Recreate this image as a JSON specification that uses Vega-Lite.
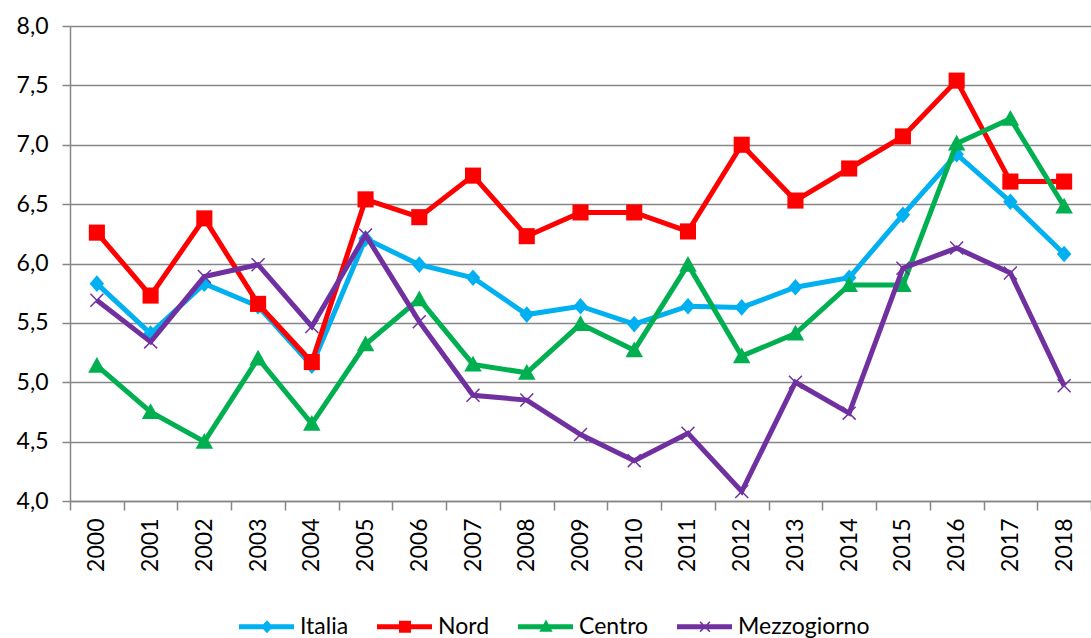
{
  "$schema": "https://vega.github.io/schema/vega-lite/v6.json",
  "width": 1021,
  "height": 475,
  "autosize": {"type": "none"},
  "padding": {"left": 70, "top": 26, "right": 0, "bottom": 137},
  "background": "white",
  "config": {
    "view": {"stroke": null},
    "font": "Lato",
    "axis": {
      "domainColor": "#868686",
      "tickColor": "#868686",
      "gridColor": "#868686",
      "labelFont": "Lato",
      "labelFontSize": 23,
      "labelColor": "#000000",
      "domainWidth": 1.5,
      "tickWidth": 1.5,
      "gridWidth": 1.5
    },
    "legend": {"labelFont": "Lato", "labelFontSize": 23, "labelColor": "#000000", "padding": 0}
  },
  "data": {
    "values": [
      {"year": "2000", "series": "Italia", "value": 5.83},
      {"year": "2001", "series": "Italia", "value": 5.41},
      {"year": "2002", "series": "Italia", "value": 5.83},
      {"year": "2003", "series": "Italia", "value": 5.64},
      {"year": "2004", "series": "Italia", "value": 5.14},
      {"year": "2005", "series": "Italia", "value": 6.21},
      {"year": "2006", "series": "Italia", "value": 5.99},
      {"year": "2007", "series": "Italia", "value": 5.88},
      {"year": "2008", "series": "Italia", "value": 5.57},
      {"year": "2009", "series": "Italia", "value": 5.64},
      {"year": "2010", "series": "Italia", "value": 5.49},
      {"year": "2011", "series": "Italia", "value": 5.64},
      {"year": "2012", "series": "Italia", "value": 5.63},
      {"year": "2013", "series": "Italia", "value": 5.80},
      {"year": "2014", "series": "Italia", "value": 5.88},
      {"year": "2015", "series": "Italia", "value": 6.41},
      {"year": "2016", "series": "Italia", "value": 6.92},
      {"year": "2017", "series": "Italia", "value": 6.52},
      {"year": "2018", "series": "Italia", "value": 6.08},
      {"year": "2000", "series": "Nord", "value": 6.26},
      {"year": "2001", "series": "Nord", "value": 5.73},
      {"year": "2002", "series": "Nord", "value": 6.38},
      {"year": "2003", "series": "Nord", "value": 5.66},
      {"year": "2004", "series": "Nord", "value": 5.17},
      {"year": "2005", "series": "Nord", "value": 6.54},
      {"year": "2006", "series": "Nord", "value": 6.39},
      {"year": "2007", "series": "Nord", "value": 6.74},
      {"year": "2008", "series": "Nord", "value": 6.23},
      {"year": "2009", "series": "Nord", "value": 6.43},
      {"year": "2010", "series": "Nord", "value": 6.43},
      {"year": "2011", "series": "Nord", "value": 6.27},
      {"year": "2012", "series": "Nord", "value": 7.00},
      {"year": "2013", "series": "Nord", "value": 6.53},
      {"year": "2014", "series": "Nord", "value": 6.80},
      {"year": "2015", "series": "Nord", "value": 7.07},
      {"year": "2016", "series": "Nord", "value": 7.54},
      {"year": "2017", "series": "Nord", "value": 6.69},
      {"year": "2018", "series": "Nord", "value": 6.69},
      {"year": "2000", "series": "Centro", "value": 5.14},
      {"year": "2001", "series": "Centro", "value": 4.75},
      {"year": "2002", "series": "Centro", "value": 4.50},
      {"year": "2003", "series": "Centro", "value": 5.20},
      {"year": "2004", "series": "Centro", "value": 4.65},
      {"year": "2005", "series": "Centro", "value": 5.32},
      {"year": "2006", "series": "Centro", "value": 5.70},
      {"year": "2007", "series": "Centro", "value": 5.15},
      {"year": "2008", "series": "Centro", "value": 5.08},
      {"year": "2009", "series": "Centro", "value": 5.49},
      {"year": "2010", "series": "Centro", "value": 5.27},
      {"year": "2011", "series": "Centro", "value": 5.99},
      {"year": "2012", "series": "Centro", "value": 5.22},
      {"year": "2013", "series": "Centro", "value": 5.41},
      {"year": "2014", "series": "Centro", "value": 5.82},
      {"year": "2015", "series": "Centro", "value": 5.82},
      {"year": "2016", "series": "Centro", "value": 7.01},
      {"year": "2017", "series": "Centro", "value": 7.22},
      {"year": "2018", "series": "Centro", "value": 6.48},
      {"year": "2000", "series": "Mezzogiorno", "value": 5.69},
      {"year": "2001", "series": "Mezzogiorno", "value": 5.34},
      {"year": "2002", "series": "Mezzogiorno", "value": 5.89},
      {"year": "2003", "series": "Mezzogiorno", "value": 5.99},
      {"year": "2004", "series": "Mezzogiorno", "value": 5.47},
      {"year": "2005", "series": "Mezzogiorno", "value": 6.24},
      {"year": "2006", "series": "Mezzogiorno", "value": 5.51},
      {"year": "2007", "series": "Mezzogiorno", "value": 4.89},
      {"year": "2008", "series": "Mezzogiorno", "value": 4.85},
      {"year": "2009", "series": "Mezzogiorno", "value": 4.56},
      {"year": "2010", "series": "Mezzogiorno", "value": 4.34},
      {"year": "2011", "series": "Mezzogiorno", "value": 4.57},
      {"year": "2012", "series": "Mezzogiorno", "value": 4.08},
      {"year": "2013", "series": "Mezzogiorno", "value": 5.00},
      {"year": "2014", "series": "Mezzogiorno", "value": 4.74},
      {"year": "2015", "series": "Mezzogiorno", "value": 5.96},
      {"year": "2016", "series": "Mezzogiorno", "value": 6.13},
      {"year": "2017", "series": "Mezzogiorno", "value": 5.92},
      {"year": "2018", "series": "Mezzogiorno", "value": 4.97}
    ]
  },
  "encoding": {
    "x": {
      "field": "year",
      "type": "ordinal",
      "scale": {"paddingInner": 0, "paddingOuter": 0},
      "axis": {
        "title": null,
        "labelAngle": -90,
        "labelAlign": "right",
        "labelBaseline": "middle",
        "tickBand": "extent",
        "tickSize": 9,
        "labelPadding": 8,
        "grid": false
      }
    },
    "y": {
      "field": "value",
      "type": "quantitative",
      "scale": {"domain": [4, 8], "nice": false, "zero": false},
      "axis": {
        "title": null,
        "values": [4, 4.5, 5, 5.5, 6, 6.5, 7, 7.5, 8],
        "labelExpr": "replace(format(datum.value, '.1f'), '.', ',')",
        "tickSize": 8,
        "labelPadding": 14,
        "grid": true
      }
    },
    "color": {
      "field": "series",
      "type": "nominal",
      "scale": {
        "domain": ["Italia", "Nord", "Centro", "Mezzogiorno"],
        "range": ["#00B0F0", "#FF0000", "#00B050", "#7030A0"]
      },
      "legend": {
        "title": null,
        "orient": "none",
        "direction": "horizontal",
        "legendX": 163,
        "legendY": 589,
        "symbolSize": 121,
        "symbolStrokeWidth": 0,
        "labelOffset": 44,
        "columnPadding": 22
      }
    }
  },
  "layer": [
    {"transform": [{"filter": "datum.series === 'Italia'"}], "mark": {"type": "line", "strokeWidth": 5}},
    {"transform": [{"filter": "datum.series === 'Italia'"}], "mark": {"type": "point", "filled": true, "opacity": 1, "size": 210, "strokeWidth": 0, "shape": "M0,-1.15L1,0L0,1.15L-1,0Z"}},
    {"transform": [{"filter": "datum.series === 'Nord'"}], "mark": {"type": "line", "strokeWidth": 5}},
    {"transform": [{"filter": "datum.series === 'Nord'"}], "mark": {"type": "point", "filled": true, "opacity": 1, "size": 196, "strokeWidth": 0, "shape": "M-1.15,-1.15L1.15,-1.15L1.15,1.15L-1.15,1.15Z"}},
    {"transform": [{"filter": "datum.series === 'Centro'"}], "mark": {"type": "line", "strokeWidth": 5}},
    {"transform": [{"filter": "datum.series === 'Centro'"}], "mark": {"type": "point", "filled": true, "opacity": 1, "size": 196, "strokeWidth": 0, "shape": "M0,-1.25L1.25,1L-1.25,1Z"}},
    {"transform": [{"filter": "datum.series === 'Mezzogiorno'"}], "mark": {"type": "line", "strokeWidth": 5}},
    {"transform": [{"filter": "datum.series === 'Mezzogiorno'"}], "mark": {"type": "point", "filled": true, "opacity": 1, "size": 196, "strokeWidth": 0, "shape": "M-1,-0.85L-0.85,-1L0,-0.15L0.85,-1L1,-0.85L0.15,0L1,0.85L0.85,1L0,0.15L-0.85,1L-1,0.85L-0.15,0Z"}},
    {
      "transform": [{"filter": "datum.value > 100"}],
      "mark": {"type": "point", "filled": true, "opacity": 1, "size": 121, "strokeWidth": 0},
      "encoding": {
        "shape": {
          "field": "series",
          "type": "nominal",
          "scale": {
            "domain": ["Italia", "Nord", "Centro", "Mezzogiorno"],
            "range": [
              "M-1,-0.45L9,-0.45L9,0.45L-1,0.45Z M4.09,-1.2L5.19,0L4.09,1.2L2.99,0Z",
              "M-1,-0.45L9,-0.45L9,0.45L-1,0.45Z M3,-1.1L5.18,-1.1L5.18,1.1L3,1.1Z",
              "M-1,-0.45L9,-0.45L9,0.45L-1,0.45Z M4.09,-1.3L5.29,0.9L2.89,0.9Z",
              "M-1,-0.45L9,-0.45L9,0.45L-1,0.45Z M3.09,-0.8L3.29,-1L4.09,-0.2L4.89,-1L5.09,-0.8L4.29,0L5.09,0.8L4.89,1L4.09,0.2L3.29,1L3.09,0.8L3.89,0Z"
            ]
          },
          "legend": {
            "title": null,
            "orient": "none",
            "direction": "horizontal",
            "legendX": 163,
            "legendY": 589,
            "symbolSize": 121,
            "symbolStrokeWidth": 0,
            "labelOffset": 44,
            "columnPadding": 22
          }
        }
      }
    }
  ]
}
